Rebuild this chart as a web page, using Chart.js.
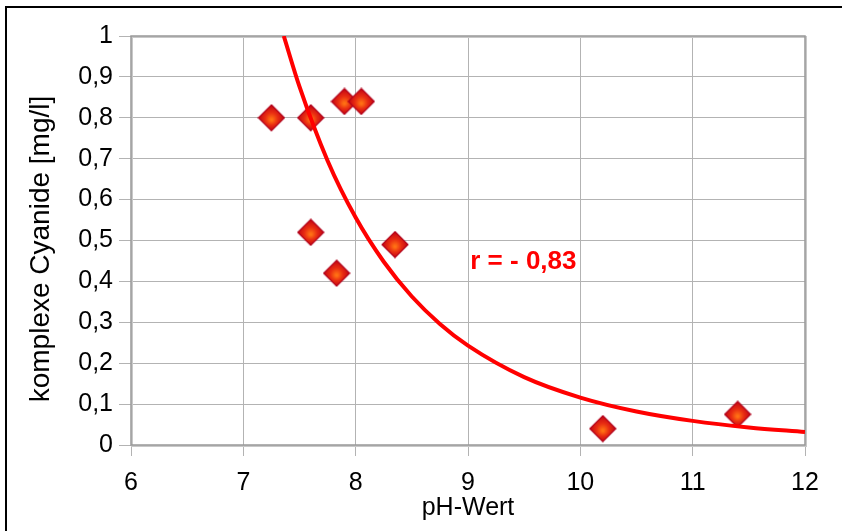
<!DOCTYPE html>
<html>
<head>
<meta charset="utf-8">
<script src="https://cdn.jsdelivr.net/npm/chart.js@4.4.1/dist/chart.umd.min.js"></script>
<style>
  html, body { margin: 0; padding: 0; background: #fff; }
  #wrap { position: relative; width: 842px; height: 531px; }
</style>
</head>
<body>
<div id="wrap"><canvas id="myChart" width="842" height="531"></canvas></div>
<script>
// measured samples: pH vs. complex cyanides
var phValues = [7.25, 7.6, 7.9, 8.05, 7.6, 7.83, 8.35, 10.2, 11.4];
var cyanide = [0.80, 0.80, 0.84, 0.84, 0.52, 0.42, 0.49, 0.04, 0.075];

// trend curve
var trendX = [7.36, 7.5, 7.75, 8, 8.25, 8.5, 8.75, 9, 9.5, 10, 10.5, 11, 11.5, 12];
var trendY = [1.0, 0.876, 0.695, 0.556, 0.448, 0.363, 0.296, 0.243, 0.166, 0.116, 0.082, 0.059, 0.043, 0.032];

var xTicks = [6, 7, 8, 9, 10, 11, 12];
var yTicks = [0, 0.1, 0.2, 0.3, 0.4, 0.5, 0.6, 0.7, 0.8, 0.9, 1];

var yTitle = 'komplexe Cyanide [mg/l]';
var rLabel = 'r = - 0,83';
var rPos = {x: 9.02, y: 0.448};

// diamond marker with a red/orange shading
function makeDiamond(r) {
	var c = document.createElement('canvas');
	c.width = r * 2 + 2;
	c.height = r * 2 + 2;
	var g = c.getContext('2d');
	var m = r + 1;
	var grad = g.createRadialGradient(m, m + 2, 1, m, m, r);
	grad.addColorStop(0, '#ff7014');
	grad.addColorStop(0.45, '#e82c12');
	grad.addColorStop(1, '#c20412');
	g.beginPath();
	g.moveTo(m, 1);
	g.lineTo(m + r, m);
	g.lineTo(m, m + r);
	g.lineTo(1, m);
	g.closePath();
	g.fillStyle = grad;
	g.fill();
	g.lineWidth = 1.2;
	g.strokeStyle = '#b0001c';
	g.stroke();
	return c;
}

var frame = {
	id: 'frame',
	beforeDraw(chart) {
		var ctx = chart.ctx;
		ctx.save();
		ctx.strokeStyle = '#000';
		ctx.lineWidth = 2;
		ctx.beginPath();
		ctx.moveTo(6, 531);
		ctx.lineTo(6, 7);
		ctx.lineTo(842, 7);
		ctx.stroke();
		// y axis title
		ctx.translate(41, 249);
		ctx.rotate(-Math.PI / 2);
		ctx.fillStyle = '#000';
		ctx.font = '28px "Liberation Sans", Arial, sans-serif';
		ctx.textAlign = 'center';
		ctx.textBaseline = 'middle';
		ctx.fillText(yTitle, 0, 0);
		ctx.restore();
	},
	beforeDatasetsDraw(chart) {
		var a = chart.chartArea, ctx = chart.ctx;
		ctx.save();
		ctx.strokeStyle = '#c8c8c8';
		ctx.lineWidth = 2;
		ctx.strokeRect(a.left + 1, a.top + 1, a.right - a.left, a.bottom - a.top);
		ctx.strokeStyle = '#999';
		ctx.lineWidth = 1.5;
		ctx.strokeRect(a.left, a.top, a.right - a.left, a.bottom - a.top);
		ctx.restore();
	},
	afterDatasetsDraw(chart) {
		var ctx = chart.ctx;
		ctx.save();
		ctx.fillStyle = '#ff0000';
		ctx.font = 'bold 26px "Liberation Sans", Arial, sans-serif';
		ctx.textBaseline = 'middle';
		ctx.fillText(rLabel, chart.scales.x.getPixelForValue(rPos.x), chart.scales.y.getPixelForValue(rPos.y));
		ctx.restore();
	}
};

var tickFont = {family: '"Liberation Sans", Arial, sans-serif', size: 25};
var titleFont = {family: '"Liberation Sans", Arial, sans-serif', size: 25};

var ctx = document.getElementById('myChart').getContext('2d');
var myChart = new Chart(ctx, {
	type: 'scatter',
	data: {
		datasets: [{
			type: 'line',
			data: trendX.map((x, i) => ({x: x, y: trendY[i]})),
			borderColor: '#ff0000',
			borderWidth: 4,
			pointRadius: 0,
			cubicInterpolationMode: 'monotone',
			fill: false,
			order: 0
		}, {
			data: phValues.map((x, i) => ({x: x, y: cyanide[i]})),
			pointStyle: makeDiamond(13),
			pointRadius: 13,
			order: 1
		}]
	},
	options: {
		responsive: false,
		animation: false,
		layout: {padding: {top: 36, right: 37, left: 0, bottom: 0}},
		plugins: {legend: {display: false}, tooltip: {enabled: false}},
		scales: {
			x: {
				type: 'linear',
				min: 6,
				max: 12,
				afterBuildTicks: s => { s.ticks = xTicks.map(v => ({value: v})); },
				afterFit: s => { s.height = 86; },
				grid: {color: '#b3b3b3', lineWidth: 1, tickLength: 11, drawTicks: true},
				border: {display: false},
				ticks: {color: '#000', font: tickFont, padding: 12, maxRotation: 0},
				title: {display: true, text: 'pH-Wert', color: '#000', font: titleFont, padding: {top: 0, bottom: 8}}
			},
			y: {
				min: 0,
				max: 1,
				afterBuildTicks: s => { s.ticks = yTicks.map(v => ({value: v})); },
				afterFit: s => { s.width = 131; },
				grid: {color: '#b3b3b3', lineWidth: 1, tickLength: 12, drawTicks: true},
				border: {display: false},
				ticks: {
					color: '#000',
					font: tickFont,
					padding: 6,
					callback: v => String(Math.round(v * 10) / 10).replace('.', ',')
				},
				title: {display: false}
			}
		}
	},
	plugins: [frame]
});
</script>
</body>
</html>
